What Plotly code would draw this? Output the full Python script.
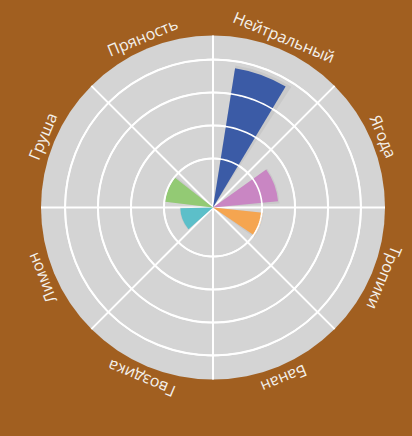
import math
import plotly.graph_objects as go

# ---- data ----
categories = ["Нейтральный", "Ягода", "Тропики", "Банан", "Гвоздика", "Лимон", "Груша", "Пряность"]
values = [82, 38, 29, 0, 0, 19, 28, 0]
colors = ["#3b5ba6", "#c986c3", "#f5a550", "#9e9e9e", "#9e9e9e", "#5cbfc9", "#93ca74", "#9e9e9e"]

# ---- style ----
BAR_WIDTHS = [22, 30, 28, 30, 30, 40, 31, 30]
BAR_SHIFT = [-2.5, 2, -2.5, 0, 0, 1, 0, 0]
RADIAL_MAX = 100
GRID_VALS = [28.5, 47.7, 66.9, 86.0]
BG = "#a15f20"
W, H = 412, 436
CX, CY, R = 213, 207.5, 172
LABEL_R = 185

n = len(categories)
step = 360 / n
theta = [step * i + step / 2 + s for i, s in enumerate(BAR_SHIFT)]
label_theta = [step * i + step / 2 for i in range(n)]

fig = go.Figure()
# soft shadow
fig.add_trace(go.Barpolar(
    r=[v * 1.02 for v in values], theta=[t + 1 for t in theta], width=[w + 2 for w in BAR_WIDTHS],
    marker=dict(color="rgba(0,0,0,0.05)", line=dict(width=0)),
    hoverinfo="skip", showlegend=False,
))
fig.add_trace(go.Barpolar(
    r=values, theta=theta, width=BAR_WIDTHS,
    marker=dict(color=colors, line=dict(width=0)),
    text=categories, hoverinfo="text+r", showlegend=False,
))
# grid circles drawn above the bars
circle_theta = [i * 2 for i in range(181)]
for g in GRID_VALS:
    fig.add_trace(go.Scatterpolar(
        r=[g] * len(circle_theta), theta=circle_theta, mode="lines",
        line=dict(color="white", width=1.6), hoverinfo="skip", showlegend=False,
    ))

annotations = []
for cat, t in zip(categories, label_theta):
    a = math.radians(t)
    px = CX + LABEL_R * math.sin(a)
    py = CY - LABEL_R * math.cos(a)
    annotations.append(dict(
        x=px / W, y=1 - py / H, xref="paper", yref="paper",
        text=cat, showarrow=False, textangle=t,
        xanchor="center", yanchor="middle",
        font=dict(family="Open Sans", size=16, color="#f4f1ec"),
    ))

fig.update_layout(
    width=W, height=H,
    margin=dict(l=0, r=0, t=0, b=0),
    paper_bgcolor=BG,
    plot_bgcolor=BG,
    annotations=annotations,
    polar=dict(
        domain=dict(x=[(CX - R) / W, (CX + R) / W], y=[(H - CY - R) / H, (H - CY + R) / H]),
        bgcolor="#d4d4d4",
        barmode="overlay",
        bargap=0,
        radialaxis=dict(range=[0, RADIAL_MAX], tickvals=GRID_VALS, showticklabels=False,
                        ticks="", showline=False, gridcolor="white", gridwidth=1.6),
        angularaxis=dict(direction="clockwise", rotation=90, tickmode="array",
                         tickvals=[step * i for i in range(n)], showticklabels=False,
                         ticks="", showline=False, gridcolor="white", gridwidth=1.6),
    ),
)

fig.write_html("out.html")
